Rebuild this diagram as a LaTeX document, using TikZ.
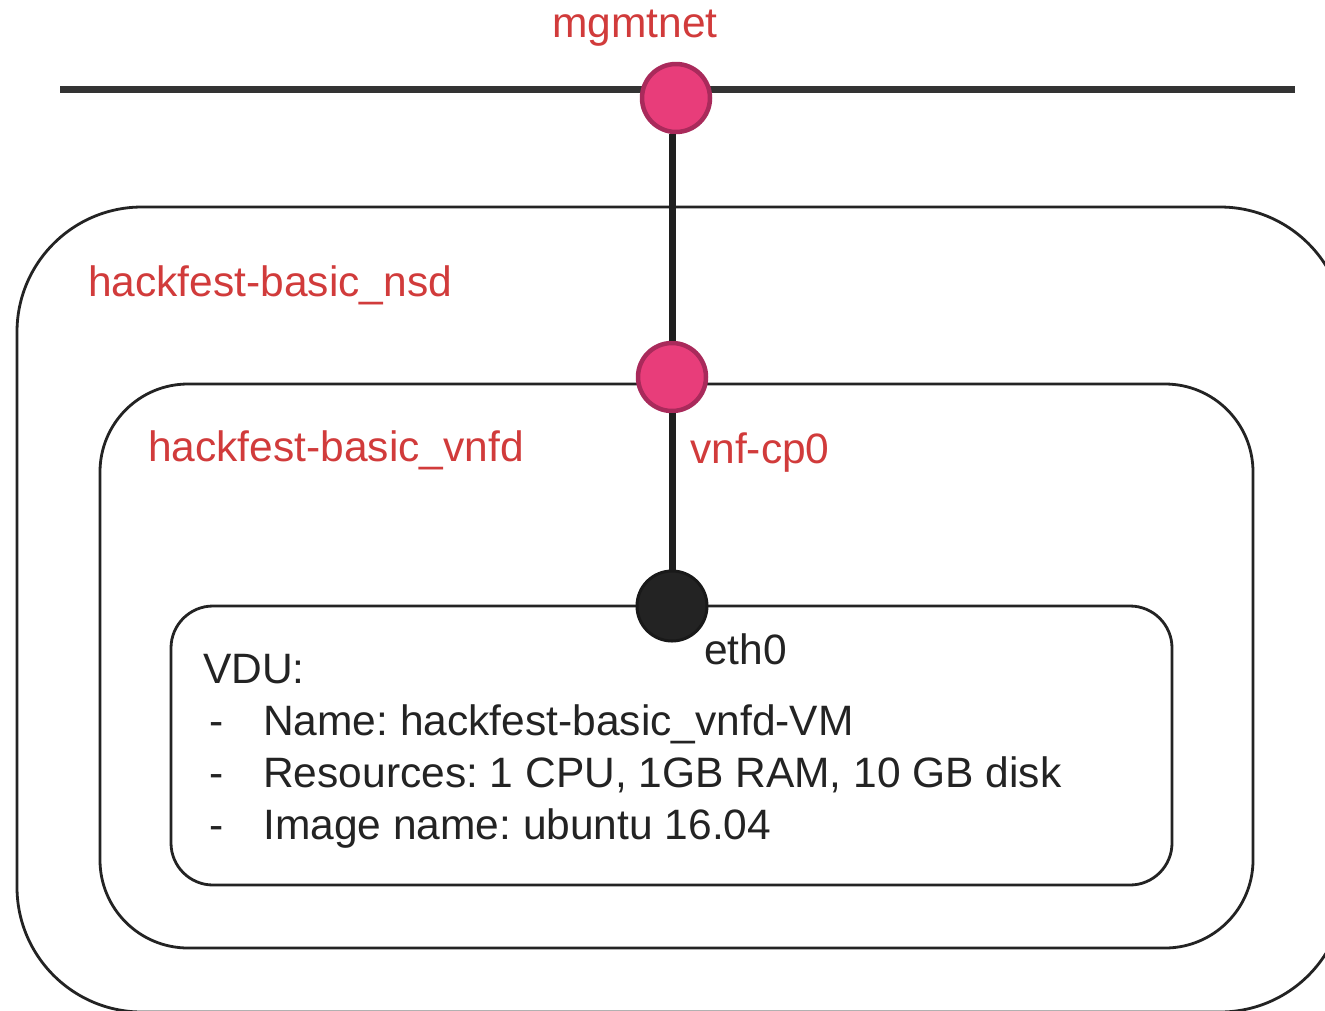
\documentclass[tikz,border=0pt]{standalone}
\usepackage{fontspec}
\setmainfont{Liberation Sans}
\frenchspacing
\definecolor{lblred}{HTML}{D13B3B}
\definecolor{pinkfill}{HTML}{E83D7A}
\definecolor{pinkedge}{HTML}{A92A5B}
\definecolor{linedark}{HTML}{333333}
\definecolor{portblack}{HTML}{232323}
\begin{document}
\begin{tikzpicture}[x=1pt,y=-1pt,
  lbl/.style={font=\fontsize{42.5}{48}\selectfont, inner sep=0pt, anchor=base west},
  redlbl/.style={lbl, text=lblred},
  blklbl/.style={lbl, text=portblack},
  frame/.style={draw=portblack, line width=2.8pt, rounded corners=#1},
  port/.style={circle, draw=pinkedge, fill=pinkfill, line width=4.5pt, minimum size=68pt, inner sep=0pt},
  vport/.style={circle, draw=black!90, fill=portblack, line width=3pt, minimum size=70pt, inner sep=0pt},
  link/.style={draw=black!88, line width=7pt}]
\useasboundingbox (0,0) rectangle (1325,1010);
\fill[white] (0,0) rectangle (1325,1010);
% frames
\draw[frame=125pt] (17,207) rectangle (1345,1012);
\draw[frame=88pt] (100,384) rectangle (1253,948);
\draw[frame=42pt] (171,606) rectangle (1172,885);
% network line
\coordinate (netL) at (60,89);
\coordinate (netR) at (1295,89);
\draw[draw=linedark, line width=7pt] (netL) -- (netR);
% ports
\node[port] (mgmt) at (676,98) {};
\node[port] (cp0) at (672,377) {};
\node[vport] (eth0) at (672,606) {};
% connectors
\draw[link] (cp0 |- mgmt.south) -- (cp0.north);
\draw[link] (cp0.south) -- (eth0.north);
% labels
\node[redlbl, anchor=base] (tmgmt) at (635,37) {mgmtnet};
\node[redlbl] (tnsd) at (88,296) {hackfest-basic\_nsd};
\node[redlbl] (tvnfd) at (148,461) {hackfest-basic\_vnfd};
\node[redlbl] (tcp) at (690,463) {vnf-cp0};
\node[blklbl] (teth) at (704,664) {eth0};
\node[blklbl] (tvdu) at (203,683) {VDU:};
\node[blklbl] (d1) at (209,735) {-};
\node[blklbl] (l1) at (263,735) {Name: hackfest-basic\_vnfd-VM};
\node[blklbl] (d2) at (209,787) {-};
\node[blklbl] (l2) at (263,787) {Resources: 1 CPU, 1GB RAM, 10 GB disk};
\node[blklbl] (d3) at (209,839) {-};
\node[blklbl] (l3) at (263,839) {Image name: ubuntu 16.04};
\end{tikzpicture}
\end{document}
